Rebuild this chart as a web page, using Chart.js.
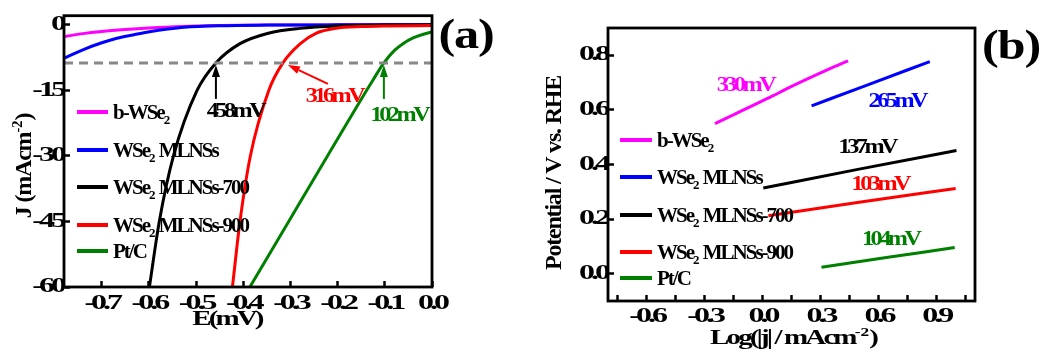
<!DOCTYPE html>
<html>
<head>
<meta charset="utf-8">
<script src="https://cdn.jsdelivr.net/npm/chart.js@4/dist/chart.umd.min.js"></script>
<style>
  html, body { margin: 0; padding: 0; background: #fff; }
  #wrap { position: relative; width: 1044px; height: 353px; overflow: hidden; background: #fff; }
  canvas { position: absolute; top: 0; }
  #her { left: 0; }
  #tafel { left: 520px; }
</style>
</head>
<body>
<div id="wrap">
  <canvas id="her" width="520" height="353"></canvas>
  <canvas id="tafel" width="524" height="353"></canvas>
</div>
<script>
// ---------- series ----------
const seriesNames  = ['b-WSe₂', 'WSe₂ MLNSs', 'WSe₂ MLNSs-700', 'WSe₂ MLNSs-900', 'Pt/C'];
const seriesColors = ['#ff00ff', '#0000ff', '#000000', '#ff0000', '#008000'];

// (a) polarization curves: potential E (V) and current density J (mA cm-2)
const E_bWSe2 = [-0.78, -0.74, -0.70, -0.65, -0.60, -0.53, -0.45, -0.35, -0.20, 0.00];
const J_bWSe2 = [-2.7, -2.0, -1.5, -1.05, -0.7, -0.35, -0.15, -0.05, 0, 0];
const E_mlns = [-0.78, -0.74, -0.70, -0.668, -0.63, -0.596, -0.56, -0.525, -0.45, -0.35, -0.20, 0.00];
const J_mlns = [-7.6, -5.7, -4.1, -3.05, -2.2, -1.5, -0.95, -0.55, -0.2, -0.05, 0, 0];
const E_mlns700 = [-0.599, -0.578, -0.548, -0.498, -0.458, -0.407, -0.347, -0.28, -0.20, -0.10, 0.00];
const J_mlns700 = [-60, -45, -30, -15, -8.7, -4.3, -1.9, -0.8, -0.25, -0.05, 0];
const E_mlns900 = [-0.423, -0.407, -0.385, -0.346, -0.316, -0.279, -0.245, -0.204, -0.15, -0.10, 0.00];
const J_mlns900 = [-60, -45, -30, -15, -8.7, -4.3, -1.9, -0.8, -0.4, -0.25, -0.15];
const E_ptc = [-0.386, -0.30, -0.215, -0.15, -0.125, -0.102, -0.08, -0.06, -0.04, -0.02, 0.00];
const J_ptc = [-60, -44.3, -28.8, -17, -12.6, -8.7, -5.9, -4.2, -3.0, -2.2, -1.6];

const refCurrent = -8.7;                 // dashed reference current density
const overpotentials = [458, 316, 102];  // mV, WSe2 MLNSs-700, MLNSs-900, Pt/C
const xTicksA = [-0.7, -0.6, -0.5, -0.4, -0.3, -0.2, -0.1, 0.0];
const yTicksA = [0, -15, -30, -45, -60];

// (b) Tafel plots: log|j| and overpotential (V vs. RHE)
const logJ_bWSe2 = [-0.246, 0.055, 0.124, 0.349, 0.443];
const eta_bWSe2  = [0.550, 0.652, 0.677, 0.751, 0.780];
const logJ_mlns = [0.254, 0.538, 0.866];
const eta_mlns  = [0.615, 0.690, 0.777];
const logJ_mlns700 = [0.004, 0.500, 1.004];
const eta_mlns700  = [0.314, 0.383, 0.451];
const logJ_mlns900 = [0.030, 0.500, 1.000];
const eta_mlns900  = [0.212, 0.262, 0.312];
const logJ_ptc = [0.305, 0.650, 0.995];
const eta_ptc  = [0.024, 0.060, 0.096];

const tafelSlopes = [330, 265, 137, 103, 104];  // mV dec-1
const xTicksB = [-0.75, -0.6, -0.45, -0.3, -0.15, 0, 0.15, 0.3, 0.45, 0.6, 0.75, 0.9, 1.05];
const yTicksB = [0, 0.2, 0.4, 0.6, 0.8];

// ---------- text helpers ----------
const FAMILY = '"Liberation Serif", "Times New Roman", serif';
const TICK_STRETCH = 1.6;
const TICK_SPACING = -2.5;

// Wide, tightly packed bold serif for every label the axes draw.
function prepareContext(canvas) {
  const ctx = canvas.getContext('2d');
  const raw = ctx.fillText;
  ctx.rawFillText = raw;
  ctx.fillText = function (text, x, y) {
    this.save();
    this.translate(x, y);
    this.scale(TICK_STRETCH, 1);
    this.letterSpacing = TICK_SPACING + 'px';
    raw.call(this, text, 0, 0);
    this.restore();
  };
  return ctx;
}

// Split a label into normal / subscript / superscript runs.
function richParts(str) {
  const subs = '₀₁₂₃₄₅₆₇₈₉';
  const sups = { '⁰': '0', '¹': '1', '²': '2', '³': '3', '⁴': '4', '⁵': '5', '⁶': '6', '⁷': '7', '⁸': '8', '⁹': '9', '⁻': '-' };
  const parts = [];
  for (const ch of str) {
    let kind = 'n', c = ch;
    const si = subs.indexOf(ch);
    if (si >= 0) { kind = 'sub'; c = String(si); }
    else if (sups[ch]) { kind = 'sup'; c = sups[ch]; }
    const last = parts[parts.length - 1];
    if (last && last.kind === kind) last.t += c; else parts.push({ kind, t: c });
  }
  return parts;
}

function drawRich(ctx, str, x, y, o) {
  const parts = richParts(str);
  ctx.save();
  ctx.translate(x, y);
  if (o.rotate) ctx.rotate(o.rotate);
  ctx.scale(o.sx || 1, o.sy || 1);
  ctx.fillStyle = o.color || '#000';
  ctx.textAlign = 'left';
  ctx.textBaseline = 'alphabetic';
  const fontOf = p => `bold ${p.kind === 'n' ? o.size : Math.round(o.size * 0.62)}px ${FAMILY}`;
  const spacingOf = p => (p.kind === 'n' ? (o.spacing || 0) : 0) + 'px';
  let total = 0;
  parts.forEach(p => {
    ctx.font = fontOf(p);
    ctx.letterSpacing = spacingOf(p);
    p.w = ctx.measureText(p.t).width;
    total += p.w;
  });
  let cx = o.align === 'center' ? -total / 2 : (o.align === 'right' ? -total : 0);
  const base = o.size * 0.34;
  parts.forEach(p => {
    ctx.font = fontOf(p);
    ctx.letterSpacing = spacingOf(p);
    const dy = p.kind === 'sup' ? -o.size * 0.4 : (p.kind === 'sub' ? o.size * 0.22 : 0);
    ctx.rawFillText(p.t, cx, base + dy);
    cx += p.w;
  });
  ctx.restore();
}

function drawArrow(ctx, x0, y0, x1, y1, color) {
  const ang = Math.atan2(y1 - y0, x1 - x0), head = 12, half = 4;
  const bx = x1 - head * Math.cos(ang), by = y1 - head * Math.sin(ang);
  ctx.save();
  ctx.strokeStyle = color; ctx.fillStyle = color; ctx.lineWidth = 2;
  ctx.beginPath(); ctx.moveTo(x0, y0); ctx.lineTo(bx, by); ctx.stroke();
  ctx.beginPath();
  ctx.moveTo(x1, y1);
  ctx.lineTo(bx + half * Math.sin(ang), by - half * Math.cos(ang));
  ctx.lineTo(bx - half * Math.sin(ang), by + half * Math.cos(ang));
  ctx.closePath(); ctx.fill();
  ctx.restore();
}

// ---------- plugins ----------
const framePlugin = {
  id: 'frame',
  afterDraw(chart, args, opts) {
    const { ctx, chartArea: a } = chart;
    ctx.save();
    ctx.strokeStyle = '#000';
    ctx.lineWidth = opts.width;
    ctx.strokeRect(a.left, a.top, a.right - a.left, a.bottom - a.top);
    ctx.restore();
  }
};

const insetLegend = {
  id: 'insetLegend',
  afterDatasetsDraw(chart, args, opts) {
    const { ctx, chartArea: a } = chart;
    opts.rows.forEach((dy, i) => {
      const ds = chart.data.datasets[i];
      const y = a.top + dy;
      ctx.save();
      ctx.strokeStyle = ds.borderColor;
      ctx.lineWidth = opts.lineWidth;
      ctx.beginPath();
      ctx.moveTo(a.left + opts.lineStart, y);
      ctx.lineTo(a.left + opts.lineEnd, y);
      ctx.stroke();
      ctx.restore();
      drawRich(ctx, ds.label, a.left + opts.textStart, y, opts.text);
    });
  }
};

const overpotentialMarks = {
  id: 'overpotentialMarks',
  afterDatasetsDraw(chart, args, opts) {
    const { ctx, scales: { x, y } } = chart;
    const y0 = y.getPixelForValue(refCurrent);
    overpotentials.forEach((mv, k) => {
      const m = opts.marks[k];
      const color = seriesColors[m.series];
      const x0 = x.getPixelForValue(-mv / 1000);
      drawArrow(ctx, x0 + m.tail[0], y0 + m.tail[1], x0 + m.tip[0], y0 + m.tip[1], color);
      drawRich(ctx, mv + 'mV', x0 + m.label[0], y0 + m.label[1], Object.assign({}, opts.text, { color, align: 'center' }));
    });
  }
};

const slopeLabels = {
  id: 'slopeLabels',
  afterDatasetsDraw(chart, args, opts) {
    const { ctx, scales: { x, y } } = chart;
    tafelSlopes.forEach((mv, i) => {
      const p = opts.anchors[i];
      drawRich(ctx, mv + 'mV', x.getPixelForValue(p[0]), y.getPixelForValue(p[1]),
        Object.assign({}, opts.text, { color: seriesColors[i], align: 'center' }));
    });
  }
};

const panelText = {
  id: 'panelText',
  afterDraw(chart, args, opts) {
    opts.items.forEach(it => drawRich(chart.ctx, it.text, it.x, it.y, it.style));
  }
};

// ---------- shared styling ----------
Chart.defaults.font.family = FAMILY;
Chart.defaults.font.weight = 'bold';
Chart.defaults.font.size = 20;
Chart.defaults.color = '#000';

const tickGrid = { display: true, drawOnChartArea: false, drawTicks: true, tickLength: -6, tickWidth: 2.5, tickColor: '#000' };
const titleStyle   = { size: 20, sx: 1.45, spacing: -2, align: 'center' };
const rotatedStyle = { size: 20, sx: 1.2, sy: 1.2, spacing: -1, align: 'center', rotate: -Math.PI / 2 };
const letterStyle  = { size: 42, sx: 1.2, spacing: -1, align: 'center' };
const legendText   = { size: 21, sx: 1.0, spacing: -2, align: 'left' };
const noteText     = { size: 21, sx: 1.15, spacing: -3 };

function lineSeries(xs, ys, i) {
  return {
    label: seriesNames[i],
    data: xs.map((v, k) => ({ x: v, y: ys[k] })),
    borderColor: seriesColors[i],
    borderWidth: 3,
    pointRadius: 0,
    cubicInterpolationMode: 'monotone',
    order: -i
  };
}

// ---------- (a) polarization curves ----------
const herCurves = [[E_bWSe2, J_bWSe2], [E_mlns, J_mlns], [E_mlns700, J_mlns700], [E_mlns900, J_mlns900], [E_ptc, J_ptc]];
const canvasA = document.getElementById('her');
prepareContext(canvasA);
new Chart(canvasA, {
  type: 'line',
  data: {
    datasets: herCurves.map((c, i) => lineSeries(c[0], c[1], i)).concat([{
      label: 'reference',
      data: [{ x: -0.78, y: refCurrent }, { x: 0, y: refCurrent }],
      borderColor: '#888888', borderWidth: 3, borderDash: [9, 6], pointRadius: 0, order: -10
    }])
  },
  options: {
    responsive: false, animation: false, devicePixelRatio: 1,
    layout: { padding: { top: 15.7, right: 88, left: 0, bottom: 0 } },
    plugins: {
      legend: { display: false }, tooltip: { enabled: false },
      frame: { width: 2.8 },
      insetLegend: { rows: [96.3, 134.3, 171.3, 209.3, 235.3], lineStart: 13, lineEnd: 44, textStart: 49, lineWidth: 4, text: legendText },
      overpotentialMarks: {
        text: noteText,
        marks: [
          { series: 2, tip: [0, 2], tail: [0, 36], label: [19, 47] },
          { series: 3, tip: [5, 2], tail: [45, 21], label: [51, 32] },
          { series: 4, tip: [0, 2], tail: [0, 36], label: [15, 51] }
        ]
      },
      panelText: {
        items: [
          { text: '(a)', x: 466, y: 34, style: letterStyle },
          { text: 'E(mV)', x: 227, y: 318, style: titleStyle },
          { text: 'J (mAcm⁻²)', x: 23, y: 166, style: rotatedStyle }
        ]
      }
    },
    scales: {
      x: {
        type: 'linear', min: -0.78, max: 0,
        afterBuildTicks: s => { s.ticks = xTicksA.map(v => ({ value: v })); },
        afterFit: s => { s.height = 66; s.paddingLeft = 0; s.paddingRight = 0; },
        ticks: { autoSkip: false, maxRotation: 0, minRotation: 0, padding: 11, callback: v => v.toFixed(1) },
        grid: tickGrid, border: { display: false }
      },
      y: {
        type: 'linear', min: -60, max: 2.1,
        afterBuildTicks: s => { s.ticks = yTicksA.map(v => ({ value: v })); },
        afterFit: s => { s.width = 64; s.paddingTop = 0; s.paddingBottom = 0; },
        ticks: { autoSkip: false, padding: 7, callback: v => String(v) },
        grid: tickGrid, border: { display: false }
      }
    }
  },
  plugins: [framePlugin, insetLegend, overpotentialMarks, panelText]
});

// ---------- (b) Tafel plots ----------
const tafelLines = [[logJ_bWSe2, eta_bWSe2], [logJ_mlns, eta_mlns], [logJ_mlns700, eta_mlns700], [logJ_mlns900, eta_mlns900], [logJ_ptc, eta_ptc]];
const canvasB = document.getElementById('tafel');
prepareContext(canvasB);
new Chart(canvasB, {
  type: 'line',
  data: { datasets: tafelLines.map((c, i) => lineSeries(c[0], c[1], i)) },
  options: {
    responsive: false, animation: false, devicePixelRatio: 1,
    layout: { padding: { top: 28, right: 69, left: 0, bottom: 0 } },
    plugins: {
      legend: { display: false }, tooltip: { enabled: false },
      frame: { width: 2.8 },
      insetLegend: { rows: [112, 149, 187, 224, 250], lineStart: 12, lineEnd: 44, textStart: 49, lineWidth: 4, text: legendText },
      slopeLabels: {
        text: noteText,
        anchors: [[-0.091, 0.697], [0.695, 0.636], [0.54, 0.468], [0.607, 0.334], [0.661, 0.130]]
      },
      panelText: {
        items: [
          { text: '(b)', x: 491, y: 45, style: letterStyle },
          { text: 'Log(|j| / mAcm⁻²)', x: 273, y: 337, style: titleStyle },
          { text: 'Potential / V vs. RHE', x: 33, y: 173, style: rotatedStyle }
        ]
      }
    },
    scales: {
      x: {
        type: 'linear', min: -0.8, max: 1.1,
        afterBuildTicks: s => { s.ticks = xTicksB.map(v => ({ value: v })); },
        afterFit: s => { s.height = 52; s.paddingLeft = 0; s.paddingRight = 0; },
        ticks: {
          autoSkip: false, maxRotation: 0, minRotation: 0, padding: 9.5,
          callback: v => (Math.abs(Math.round(v / 0.3) * 0.3 - v) < 1e-6 ? v.toFixed(1) : '')
        },
        grid: tickGrid, border: { display: false }
      },
      y: {
        type: 'linear', min: -0.1, max: 0.9,
        afterBuildTicks: s => { s.ticks = yTicksB.map(v => ({ value: v })); },
        afterFit: s => { s.width = 88; s.paddingTop = 0; s.paddingBottom = 0; },
        ticks: { autoSkip: false, padding: 7, callback: v => v.toFixed(1) },
        grid: tickGrid, border: { display: false }
      }
    }
  },
  plugins: [framePlugin, insetLegend, slopeLabels, panelText]
});
</script>
</body>
</html>
